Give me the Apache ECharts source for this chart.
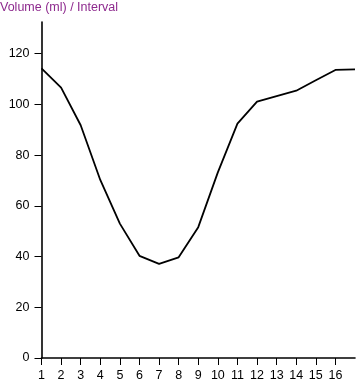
<!DOCTYPE html>
<html><head><meta charset="utf-8">
<script src="https://cdn.jsdelivr.net/npm/echarts@6/dist/echarts.min.js"></script>
<style>html,body{margin:0;padding:0;background:#fff}#c{width:356px;height:383px}</style>
</head><body><div id="c"></div>
<script>
const intervals = [1,2,3,4,5,6,7,8,9,10,11,12,13,14,15,16,17];
const volumes = [114.2,106.6,91.8,70.2,53.0,40.3,37.1,39.7,51.6,73.2,92.4,101.1,103.3,105.4,109.5,113.6,113.8];
const xTickLabels = [1,2,3,4,5,6,7,8,9,10,11,12,13,14,15,16];
const yTickLabels = [0,20,40,60,80,100,120];
const titleText = 'Volume (ml) / Interval';

const font = 'Liberation Sans, Arial, Helvetica, sans-serif';
const chart = echarts.init(document.getElementById('c'), null, {renderer:'canvas'});
chart.setOption({
  animation:false,
  backgroundColor:'#fff',
  title:{text:titleText,left:0,top:1,padding:0,textStyle:{color:'#8e2a8e',fontSize:12.5,fontWeight:'normal',fontFamily:font}},
  grid:{left:41.5,right:1,top:22,bottom:25,containLabel:false},
  xAxis:{type:'value',min:1,max:17,
    axisLine:{show:true,lineStyle:{color:'#000',width:1.6}},
    axisTick:{show:true,length:7,lineStyle:{color:'#000',width:1},customValues:xTickLabels},
    axisLabel:{color:'#000',fontSize:12.5,margin:11,fontFamily:font,customValues:xTickLabels},
    splitLine:{show:false}},
  yAxis:{type:'value',min:0,max:132.5,
    axisLine:{show:true,lineStyle:{color:'#000',width:1.6}},
    axisTick:{show:true,length:7,lineStyle:{color:'#000',width:1},customValues:yTickLabels},
    axisLabel:{color:'#000',fontSize:12.5,margin:12,fontFamily:font,customValues:yTickLabels},
    splitLine:{show:false}},
  series:[{type:'line',data:intervals.map((x,i)=>[x,volumes[i]]),showSymbol:false,symbol:'none',
    lineStyle:{color:'#000',width:1.8},clip:false}]
});
</script></body></html>
